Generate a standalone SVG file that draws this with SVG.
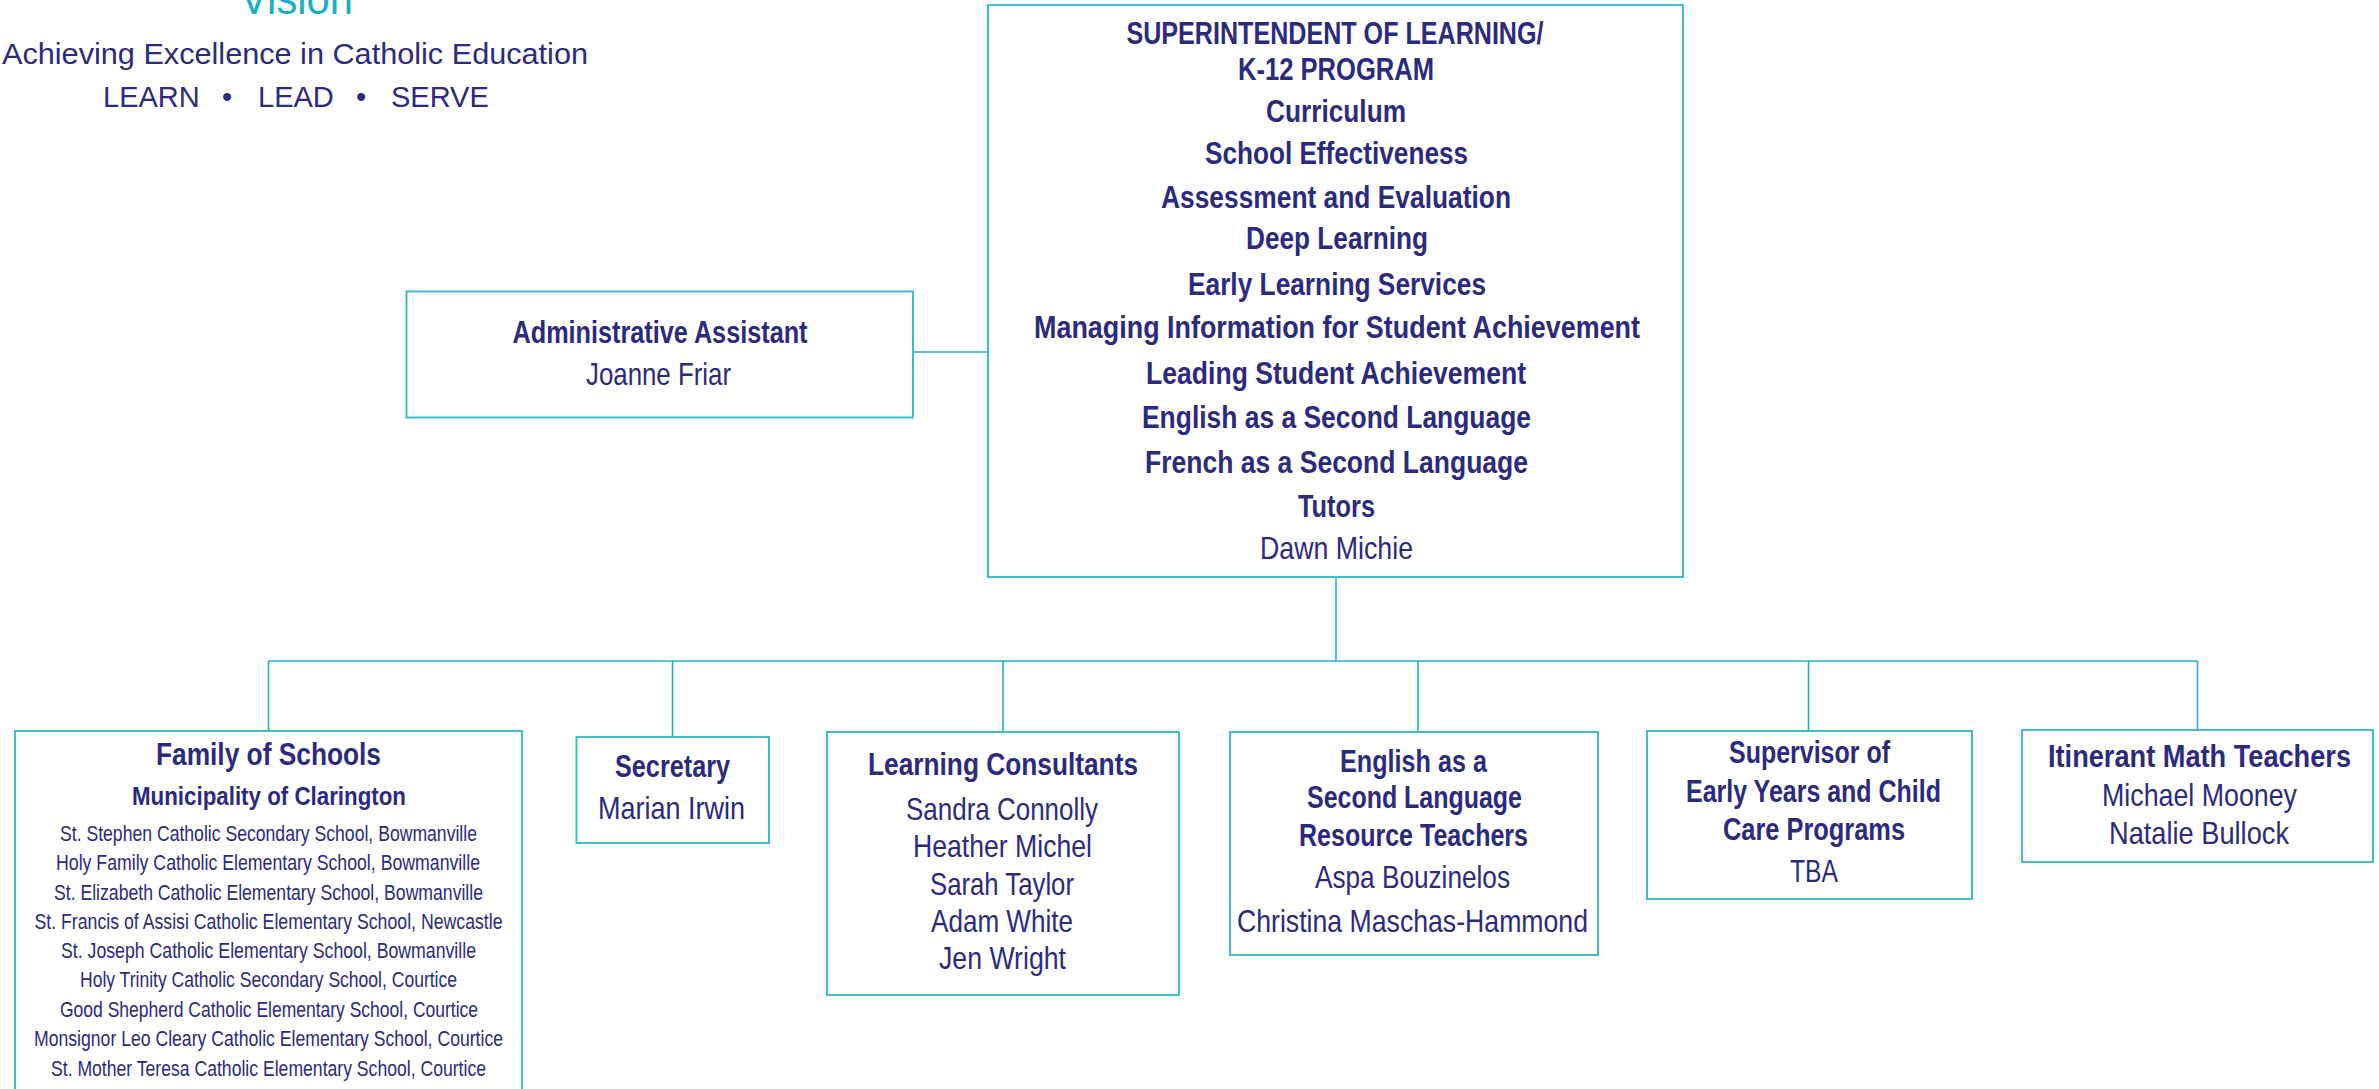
<svg xmlns="http://www.w3.org/2000/svg" width="2379" height="1089" viewBox="0 0 2379 1089">
<style>
text{font-family:"Liberation Sans",Arial,sans-serif;fill:#2b2a7e;text-anchor:middle}
.b{font-weight:bold;font-size:32px}
.r{font-size:32px}
.s{font-size:21.5px}
.box{fill:#fff;stroke:#3fbdc9;stroke-width:2}
.con{fill:none;stroke:#24b0c0;stroke-width:1.6}
.hdr{font-size:29px;text-anchor:start}
</style>
<rect width="2379" height="1089" fill="#fff"/>
<g id="header">
<text x="296.5" y="14" font-size="44" style="fill:#17afc2" textLength="113" lengthAdjust="spacingAndGlyphs">Vision</text>
<text class="hdr" x="2" y="64" textLength="586" lengthAdjust="spacingAndGlyphs">Achieving Excellence in Catholic Education</text>
<text class="hdr" y="107"><tspan x="103">LEARN</tspan><tspan x="222">•</tspan><tspan x="258">LEAD</tspan><tspan x="356">•</tspan><tspan x="391">SERVE</tspan></text>
</g>
<g id="connectors">
<path class="con" d="M913 352H988"/>
<path class="con" d="M1336 577V661"/>
<path class="con" d="M268.5 661H2197.5"/>
<path class="con" d="M268.5 661V731M672.5 661V737M1003 661V732M1418 661V732M1808.5 661V731M2197.5 661V730"/>
</g>
<g id="superintendent">
<rect class="box" x="988" y="5" width="695" height="572"/>
<text class="b" x="1335" y="44" textLength="417" lengthAdjust="spacingAndGlyphs">SUPERINTENDENT OF LEARNING/</text>
<text class="b" x="1336" y="80" textLength="196" lengthAdjust="spacingAndGlyphs">K-12 PROGRAM</text>
<text class="b" x="1336" y="122" textLength="140" lengthAdjust="spacingAndGlyphs">Curriculum</text>
<text class="b" x="1336.5" y="164" textLength="263" lengthAdjust="spacingAndGlyphs">School Effectiveness</text>
<text class="b" x="1336" y="208" textLength="350" lengthAdjust="spacingAndGlyphs">Assessment and Evaluation</text>
<text class="b" x="1337" y="249" textLength="182" lengthAdjust="spacingAndGlyphs">Deep Learning</text>
<text class="b" x="1337" y="295" textLength="298" lengthAdjust="spacingAndGlyphs">Early Learning Services</text>
<text class="b" x="1337" y="338" textLength="606" lengthAdjust="spacingAndGlyphs">Managing Information for Student Achievement</text>
<text class="b" x="1336" y="384" textLength="380" lengthAdjust="spacingAndGlyphs">Leading Student Achievement</text>
<text class="b" x="1336.5" y="428" textLength="389" lengthAdjust="spacingAndGlyphs">English as a Second Language</text>
<text class="b" x="1336.5" y="473" textLength="383" lengthAdjust="spacingAndGlyphs">French as a Second Language</text>
<text class="b" x="1336.5" y="517" textLength="77" lengthAdjust="spacingAndGlyphs">Tutors</text>
<text class="r" x="1336.5" y="559" textLength="153" lengthAdjust="spacingAndGlyphs">Dawn Michie</text>
</g>
<g id="admin-assistant">
<rect class="box" x="406.5" y="291.5" width="506.5" height="126"/>
<text class="b" x="660" y="343" textLength="295" lengthAdjust="spacingAndGlyphs">Administrative Assistant</text>
<text class="r" x="658.5" y="385" textLength="145" lengthAdjust="spacingAndGlyphs">Joanne Friar</text>
</g>
<g id="family-of-schools">
<rect class="box" x="15" y="731" width="507" height="380"/>
<text x="268.5" y="765" font-size="31" font-weight="bold" textLength="225" lengthAdjust="spacingAndGlyphs">Family of Schools</text>
<text x="269" y="805" font-size="26" font-weight="bold" textLength="274" lengthAdjust="spacingAndGlyphs">Municipality of Clarington</text>
<text class="s" x="268.5" y="841" textLength="417" lengthAdjust="spacingAndGlyphs">St. Stephen Catholic Secondary School, Bowmanville</text>
<text class="s" x="268" y="870" textLength="424" lengthAdjust="spacingAndGlyphs">Holy Family Catholic Elementary School, Bowmanville</text>
<text class="s" x="268.5" y="900" textLength="429" lengthAdjust="spacingAndGlyphs">St. Elizabeth Catholic Elementary School, Bowmanville</text>
<text class="s" x="268.5" y="929" textLength="468" lengthAdjust="spacingAndGlyphs">St. Francis of Assisi Catholic Elementary School, Newcastle</text>
<text class="s" x="268.5" y="958" textLength="415" lengthAdjust="spacingAndGlyphs">St. Joseph Catholic Elementary School, Bowmanville</text>
<text class="s" x="268.5" y="987" textLength="377" lengthAdjust="spacingAndGlyphs">Holy Trinity Catholic Secondary School, Courtice</text>
<text class="s" x="269" y="1017" textLength="418" lengthAdjust="spacingAndGlyphs">Good Shepherd Catholic Elementary School, Courtice</text>
<text class="s" x="268.5" y="1046" textLength="469" lengthAdjust="spacingAndGlyphs">Monsignor Leo Cleary Catholic Elementary School, Courtice</text>
<text class="s" x="268.5" y="1076" textLength="435" lengthAdjust="spacingAndGlyphs">St. Mother Teresa Catholic Elementary School, Courtice</text>
</g>
<g id="secretary">
<rect class="box" x="576.5" y="737" width="192.5" height="106"/>
<text class="b" x="672.5" y="777" textLength="115" lengthAdjust="spacingAndGlyphs">Secretary</text>
<text class="r" x="671.5" y="819" textLength="147" lengthAdjust="spacingAndGlyphs">Marian Irwin</text>
</g>
<g id="learning-consultants">
<rect class="box" x="827" y="732" width="352" height="263"/>
<text class="b" x="1003" y="775" textLength="270" lengthAdjust="spacingAndGlyphs">Learning Consultants</text>
<text class="r" x="1002" y="820" textLength="192" lengthAdjust="spacingAndGlyphs">Sandra Connolly</text>
<text class="r" x="1002.5" y="857" textLength="179" lengthAdjust="spacingAndGlyphs">Heather Michel</text>
<text class="r" x="1002" y="895" textLength="144" lengthAdjust="spacingAndGlyphs">Sarah Taylor</text>
<text class="r" x="1002" y="932" textLength="142" lengthAdjust="spacingAndGlyphs">Adam White</text>
<text class="r" x="1002.5" y="969" textLength="127" lengthAdjust="spacingAndGlyphs">Jen Wright</text>
</g>
<g id="esl-resource-teachers">
<rect class="box" x="1230" y="732" width="368" height="223"/>
<text class="b" x="1413.5" y="772" textLength="147" lengthAdjust="spacingAndGlyphs">English as a</text>
<text class="b" x="1414.5" y="808" textLength="215" lengthAdjust="spacingAndGlyphs">Second Language</text>
<text class="b" x="1413.5" y="846" textLength="229" lengthAdjust="spacingAndGlyphs">Resource Teachers</text>
<text class="r" x="1412.5" y="888" textLength="195" lengthAdjust="spacingAndGlyphs">Aspa Bouzinelos</text>
<text class="r" x="1412.5" y="932" textLength="351" lengthAdjust="spacingAndGlyphs">Christina Maschas-Hammond</text>
</g>
<g id="early-years-supervisor">
<rect class="box" x="1647" y="731" width="325" height="168"/>
<text class="b" x="1809.5" y="763" textLength="161" lengthAdjust="spacingAndGlyphs">Supervisor of</text>
<text class="b" x="1813.5" y="802" textLength="255" lengthAdjust="spacingAndGlyphs">Early Years and Child</text>
<text class="b" x="1814" y="840" textLength="182" lengthAdjust="spacingAndGlyphs">Care Programs</text>
<text class="r" x="1814" y="882" textLength="48" lengthAdjust="spacingAndGlyphs">TBA</text>
</g>
<g id="itinerant-math">
<rect class="box" x="2022" y="730" width="351" height="132"/>
<text class="b" x="2199.5" y="767" textLength="303" lengthAdjust="spacingAndGlyphs">Itinerant Math Teachers</text>
<text class="r" x="2199.5" y="806" textLength="195" lengthAdjust="spacingAndGlyphs">Michael Mooney</text>
<text class="r" x="2199" y="844" textLength="180" lengthAdjust="spacingAndGlyphs">Natalie Bullock</text>
</g>
</svg>
